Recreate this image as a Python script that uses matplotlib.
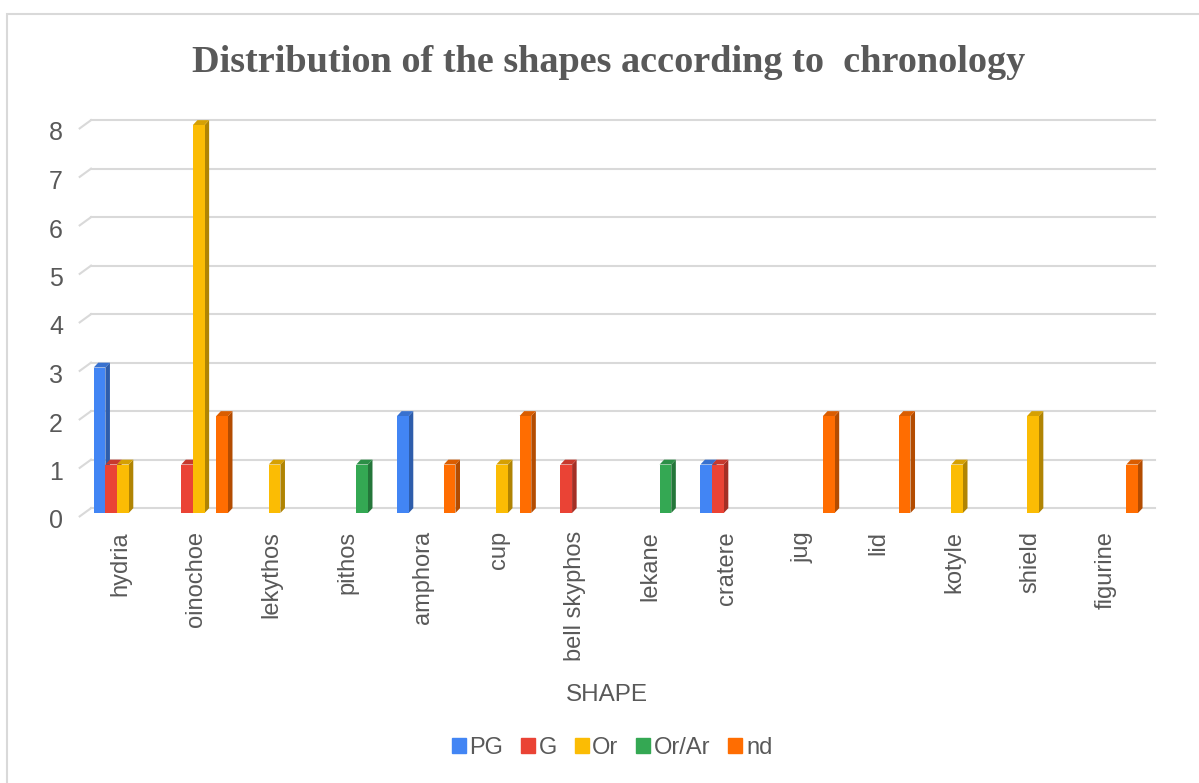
import numpy as np
import matplotlib
matplotlib.use("Agg")
import matplotlib.pyplot as plt
from matplotlib.patches import Polygon, Rectangle, Patch
from matplotlib.colors import to_rgb
from matplotlib.transforms import ScaledTranslation

shapes = ["hydria", "oinochoe", "lekythos", "pithos", "amphora", "cup",
          "bell skyphos", "lekane", "cratere", "jug", "lid", "kotyle",
          "shield", "figurine"]
series = ["PG", "G", "Or", "Or/Ar", "nd"]
pg    = [3, 0, 0, 0, 2, 0, 0, 0, 1, 0, 0, 0, 0, 0]
g     = [1, 1, 0, 0, 0, 0, 1, 0, 1, 0, 0, 0, 0, 0]
orr   = [1, 8, 1, 0, 0, 1, 0, 0, 0, 0, 0, 1, 2, 0]
or_ar = [0, 0, 0, 1, 0, 0, 0, 1, 0, 0, 0, 0, 0, 0]
nd    = [0, 2, 0, 0, 1, 2, 0, 0, 0, 2, 2, 0, 0, 1]
values = [pg, g, orr, or_ar, nd]
colors = ["#4285F4", "#EA4335", "#FBBC04", "#34A853", "#FF6D01"]

grey = "#595959"
plt.rcParams["font.family"] = ["Liberation Sans", "DejaVu Sans"]

fig = plt.figure(figsize=(11.99, 7.83), dpi=100)
ax = fig.add_axes([86.5 / 1199, 270 / 783, 1064 / 1199, 388 / 783])

# chart border
fig.patches.append(Rectangle((7 / 1199, -0.1), 1.2, 1.1 - 14 / 783,
                             transform=fig.transFigure, fill=False,
                             edgecolor="#d9d9d9", lw=1.5))

xmin, xmax = -0.48, 13.55
ax.set_xlim(xmin, xmax)
ax.set_ylim(0, 8)

w = 0.154          # slot width
ddx, ddy = 0.06, 0.1   # 3d depth in data units
x = np.arange(len(shapes))

# back wall gridlines with small floor slant
for k in range(9):
    yk = k + ddy
    ax.plot([xmin + ddx, xmax + ddx], [yk, yk], color="#d9d9d9", lw=1.5,
            clip_on=False, zorder=0)
    ax.plot([xmin - 0.09, xmin + ddx], [yk - 0.17, yk], color="#d9d9d9",
            lw=1.5, clip_on=False, zorder=0)


def shade(c, f):
    r, gg, b = to_rgb(c)
    return (r * f, gg * f, b * f)


for j, (vals, col) in enumerate(zip(values, colors)):
    xs = x + (j - 2) * w
    vals = np.array(vals)
    ax.bar(xs[vals > 0], vals[vals > 0], width=w, color=col, zorder=3 + 2 * j,
           linewidth=0)
    for xc, h in zip(xs, vals):
        if h <= 0:
            continue
        l, r = xc - w / 2, xc + w / 2
        side = Polygon([(r, 0), (r + ddx, ddy), (r + ddx, h + ddy), (r, h)],
                       closed=True, color=shade(col, 0.7), lw=0,
                       zorder=2 + 2 * j, clip_on=False)
        top = Polygon([(l, h), (l + ddx, h + ddy), (r + ddx, h + ddy), (r, h)],
                      closed=True, color=shade(col, 0.85), lw=0,
                      zorder=2 + 2 * j, clip_on=False)
        ax.add_patch(side)
        ax.add_patch(top)

for s in ax.spines.values():
    s.set_visible(False)

ax.set_yticks(range(9))
ax.tick_params(axis="y", length=0, pad=17, labelsize=18, labelcolor=grey)
off = ScaledTranslation(0, -6 / 100, fig.dpi_scale_trans)
for lbl in ax.get_yticklabels():
    lbl.set_transform(lbl.get_transform() + off)

ax.set_xticks(x)
ax.set_xticklabels(shapes, rotation=90)
ax.tick_params(axis="x", length=0, pad=13, labelsize=17, labelcolor=grey)
off_x = ScaledTranslation(-3 / 100, 0, fig.dpi_scale_trans)
for lbl in ax.get_xticklabels():
    lbl.set_transform(lbl.get_transform() + off_x)

ax.set_xlabel("SHAPE", fontsize=17.5, color=grey)
ax.xaxis.set_label_coords(0.489, -0.44)

fig.suptitle("Distribution of the shapes according to  chronology",
             x=609 / 1199, y=1 - 62 / 783, va="center", fontsize=27.5,
             fontweight="bold", family="Liberation Serif", color=grey)

handles = [Patch(color=c, label=s) for c, s in zip(colors, series)]
fig.legend(handles=handles, loc="center", bbox_to_anchor=(612 / 1199, 1 - 748 / 783),
           ncol=5, frameon=False, fontsize=17, labelcolor=grey,
           handlelength=0.6, handleheight=0.6, handletextpad=0.15,
           columnspacing=0.75)

fig.savefig("out.png", dpi=100)
